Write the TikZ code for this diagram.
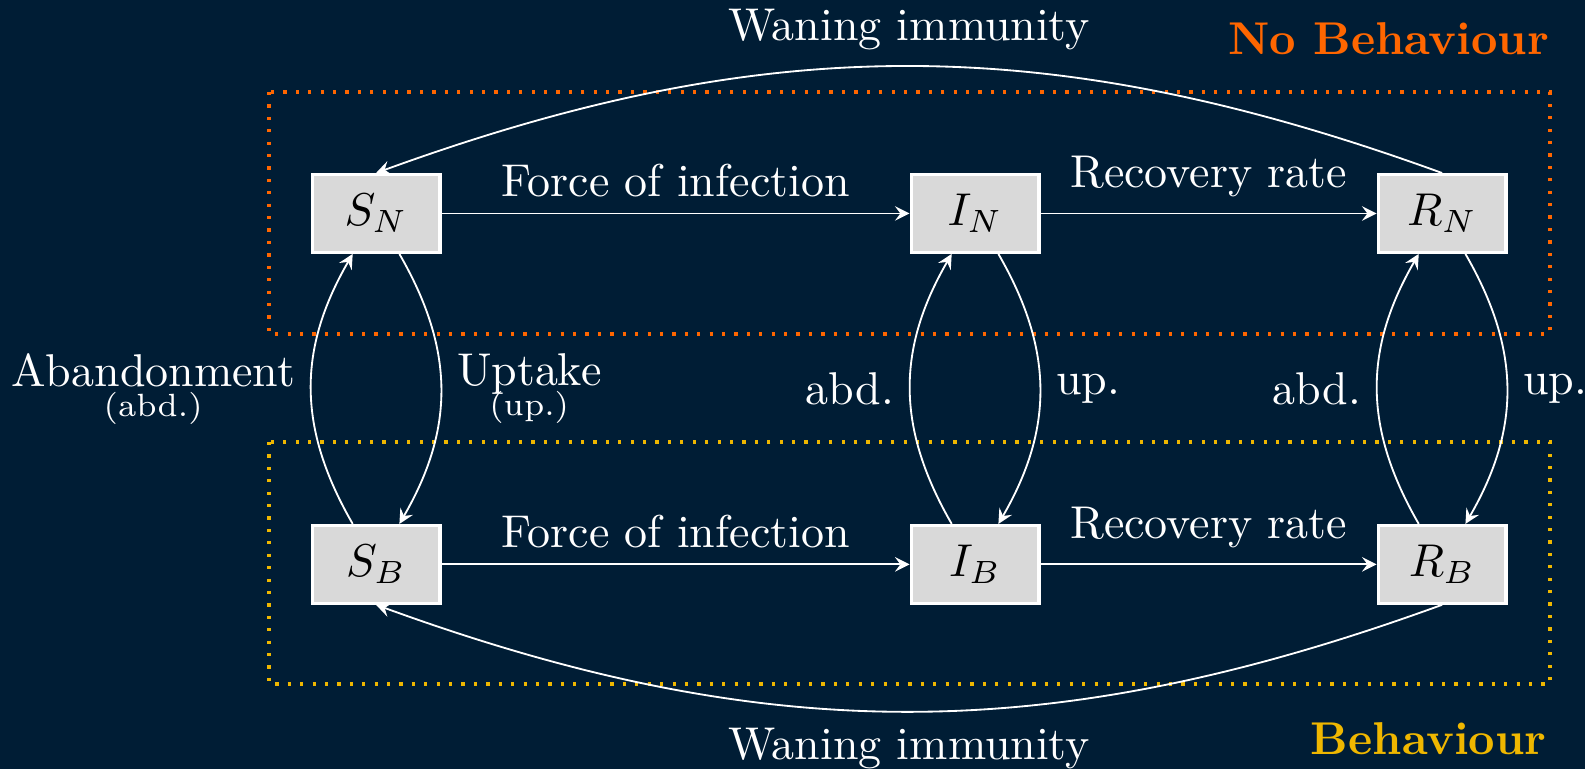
\documentclass[tikz,border=0pt]{standalone}
\usepackage{amsmath}
\usepackage{xcolor}
\usepackage{tikz}
\usetikzlibrary{arrows, positioning}
\definecolor{bgblue}{HTML}{001D35}
\definecolor{nbcolor}{HTML}{FF6600}
\definecolor{bcolor}{HTML}{EFB700}
\tikzstyle{compartment} = [rectangle, minimum width=0.977cm, minimum height=0.594cm, text centered, draw=white, line width=0.7pt, fill=black!15, text=black]
\tikzstyle{arrow} = [white,->,>=stealth]
\tikzstyle{group} = [dotted, line width=0.7pt]

\begin{document}
\begin{tikzpicture}[color=white]

% Background
\fill[bgblue] (0,0) rectangle (12.118,-5.879);
\useasboundingbox (0,0) rectangle (12.118,-5.879);

% Groups
\draw [group, nbcolor] (2.057,-0.703) rectangle (11.850,-2.554);
\draw [group, bcolor] (2.057,-3.379) rectangle (11.850,-5.229);
\node (nblabel) [anchor=base east, inner sep=0, text=nbcolor, font=\bfseries] at (11.85,-0.413) {No Behaviour};
\node (blabel) [anchor=base east, inner sep=0, text=bcolor, font=\bfseries] at (11.83,-5.765) {Behaviour};

% States
\node (SN) [compartment] at (2.875,-1.632) {$S_N$};
\node (IN) [compartment, right=3.578cm of SN] {$I_N$};
\node (RN) [compartment, right=2.569cm of IN] {$R_N$};
\node (SB) [compartment, below=2.064cm of SN] {$S_B$};
\node (IB) [compartment, below=2.064cm of IN] {$I_B$};
\node (RB) [compartment, below=2.064cm of RN] {$R_B$};

% Transitions
\draw [arrow] (SN) -- node[above] {Force of infection} (IN);
\draw [arrow] (IN) -- node[above] {Recovery rate} (RN);
\draw [arrow] (SB) -- node[above] {Force of infection} (IB);
\draw [arrow] (IB) -- node[above] {Recovery rate} (RB);

\draw [arrow] (RN.north) to[bend right=20] node[above] {Waning immunity} (SN.north);
\draw [arrow] (RB.south) to[bend left=20] node[below] {Waning immunity} (SB.south);

% Behaviour switches
\draw [arrow] (SB) to[bend left=30, looseness=1.05] node[left, align=center] {Abandonment\\[-5.5pt]{\scriptsize (abd.)}} (SN);
\draw [arrow] (SN) to[bend left=30, looseness=1.05] node[right, align=center] {Uptake\\[-5.5pt]{\scriptsize (up.)}} (SB);
\draw [arrow] (IB) to[bend left=30, looseness=1.05] node[left] {abd.} (IN);
\draw [arrow] (IN) to[bend left=30, looseness=1.05] node[right] {up.} (IB);
\draw [arrow] (RB) to[bend left=30, looseness=1.05] node[left] {abd.} (RN);
\draw [arrow] (RN) to[bend left=30, looseness=1.05] node[right] {up.} (RB);

\end{tikzpicture}
\end{document}
